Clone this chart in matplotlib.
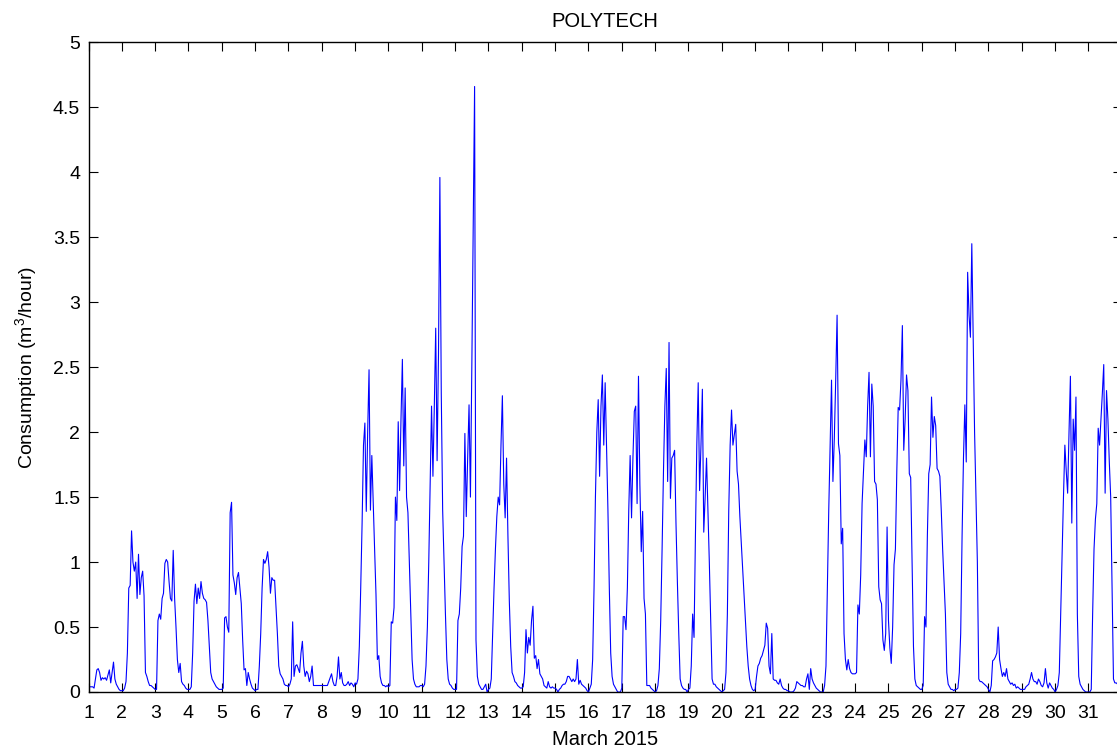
import numpy as np
import matplotlib
matplotlib.use("Agg")
import matplotlib.pyplot as plt

plt.rcParams['font.family'] = ['Liberation Sans', 'DejaVu Sans']
plt.rcParams['mathtext.fontset'] = 'custom'
plt.rcParams['mathtext.rm'] = 'Liberation Sans'
plt.rcParams['mathtext.it'] = 'Liberation Sans'

# Hourly water consumption (m3/hour), one list of 24 readings per day of March 2015
mar01 = [0.04, 0.04, 0.04, 0.04, 0.03, 0.10, 0.17, 0.18, 0.15, 0.09, 0.11, 0.10, 0.11, 0.09, 0.13, 0.17, 0.07, 0.15, 0.23, 0.10, 0.06, 0.04, 0.02, 0.01]
mar02 = [0.01, 0.01, 0.03, 0.08, 0.30, 0.80, 0.82, 1.24, 1.00, 0.93, 1.00, 0.72, 1.06, 0.75, 0.88, 0.93, 0.74, 0.15, 0.12, 0.08, 0.05, 0.05, 0.04, 0.03]
mar03 = [0.02, 0.02, 0.55, 0.60, 0.56, 0.72, 0.76, 0.99, 1.02, 1.00, 0.85, 0.72, 0.70, 1.09, 0.72, 0.50, 0.25, 0.15, 0.22, 0.08, 0.06, 0.05, 0.03, 0.02]
mar04 = [0.02, 0.02, 0.04, 0.30, 0.70, 0.83, 0.68, 0.80, 0.72, 0.85, 0.76, 0.72, 0.71, 0.69, 0.55, 0.35, 0.15, 0.10, 0.08, 0.06, 0.04, 0.03, 0.02, 0.02]
mar05 = [0.02, 0.03, 0.57, 0.58, 0.50, 0.46, 1.38, 1.46, 0.90, 0.84, 0.75, 0.88, 0.92, 0.80, 0.68, 0.40, 0.17, 0.18, 0.05, 0.15, 0.10, 0.06, 0.03, 0.02]
mar06 = [0.01, 0.02, 0.02, 0.20, 0.45, 0.80, 1.02, 0.99, 1.02, 1.08, 0.96, 0.76, 0.88, 0.86, 0.86, 0.65, 0.45, 0.20, 0.14, 0.12, 0.10, 0.06, 0.05, 0.05]
mar07 = [0.04, 0.06, 0.10, 0.54, 0.12, 0.20, 0.21, 0.18, 0.15, 0.30, 0.39, 0.20, 0.12, 0.16, 0.14, 0.08, 0.12, 0.20, 0.05, 0.05, 0.05, 0.05, 0.05, 0.05]
mar08 = [0.05, 0.05, 0.05, 0.05, 0.05, 0.08, 0.11, 0.14, 0.08, 0.05, 0.05, 0.12, 0.27, 0.10, 0.15, 0.07, 0.05, 0.05, 0.06, 0.08, 0.05, 0.07, 0.06, 0.04]
mar09 = [0.07, 0.06, 0.10, 0.35, 0.80, 1.30, 1.90, 2.07, 1.39, 2.00, 2.48, 1.40, 1.82, 1.45, 1.10, 0.75, 0.25, 0.28, 0.12, 0.07, 0.05, 0.05, 0.04, 0.05]
mar10 = [0.04, 0.05, 0.54, 0.53, 0.65, 1.50, 1.32, 2.08, 1.55, 2.10, 2.56, 1.74, 2.34, 1.50, 1.38, 1.00, 0.60, 0.25, 0.10, 0.06, 0.04, 0.04, 0.04, 0.05]
mar11 = [0.05, 0.04, 0.06, 0.20, 0.50, 1.00, 1.60, 2.20, 1.66, 2.20, 2.80, 1.78, 2.60, 3.96, 2.30, 1.40, 1.00, 0.60, 0.25, 0.10, 0.06, 0.05, 0.03, 0.02]
mar12 = [0.02, 0.02, 0.55, 0.60, 0.80, 1.12, 1.20, 1.99, 1.35, 1.80, 2.21, 1.50, 2.50, 3.60, 4.66, 0.40, 0.12, 0.06, 0.04, 0.02, 0.02, 0.04, 0.06, 0.00]
mar13 = [0.02, 0.03, 0.10, 0.45, 0.80, 1.10, 1.35, 1.50, 1.44, 1.90, 2.28, 1.60, 1.34, 1.80, 1.20, 0.70, 0.35, 0.15, 0.12, 0.08, 0.07, 0.05, 0.04, 0.03]
mar14 = [0.03, 0.04, 0.15, 0.48, 0.30, 0.42, 0.36, 0.55, 0.66, 0.26, 0.28, 0.18, 0.25, 0.14, 0.12, 0.10, 0.05, 0.04, 0.03, 0.08, 0.04, 0.03, 0.04, 0.03]
mar15 = [0.03, 0.02, 0.00, 0.02, 0.03, 0.05, 0.06, 0.06, 0.08, 0.12, 0.12, 0.10, 0.08, 0.10, 0.08, 0.10, 0.25, 0.06, 0.09, 0.06, 0.05, 0.04, 0.03, 0.01]
mar16 = [0.00, 0.03, 0.06, 0.25, 0.80, 1.50, 2.00, 2.25, 1.66, 2.20, 2.44, 1.90, 2.38, 1.90, 1.40, 0.80, 0.30, 0.12, 0.06, 0.04, 0.02, 0.00, 0.00, 0.00]
mar17 = [0.03, 0.58, 0.58, 0.48, 0.80, 1.40, 1.82, 1.34, 1.80, 2.16, 2.20, 1.45, 2.43, 1.60, 1.08, 1.39, 0.72, 0.60, 0.05, 0.05, 0.05, 0.03, 0.02, 0.01]
mar18 = [0.00, 0.01, 0.05, 0.18, 0.55, 1.10, 1.70, 2.20, 2.49, 1.62, 2.69, 1.49, 1.80, 1.82, 1.86, 1.30, 0.85, 0.45, 0.10, 0.05, 0.03, 0.02, 0.02, 0.00]
mar19 = [0.02, 0.03, 0.20, 0.60, 0.42, 1.20, 1.90, 2.38, 1.55, 1.90, 2.33, 1.23, 1.50, 1.80, 1.40, 1.00, 0.55, 0.10, 0.06, 0.06, 0.04, 0.03, 0.02, 0.01]
mar20 = [0.00, 0.01, 0.02, 0.15, 0.60, 1.40, 1.90, 2.17, 1.90, 1.98, 2.06, 1.70, 1.60, 1.35, 1.15, 0.95, 0.75, 0.55, 0.35, 0.20, 0.10, 0.05, 0.02, 0.01]
mar21 = [0.02, 0.12, 0.20, 0.22, 0.26, 0.28, 0.32, 0.36, 0.53, 0.49, 0.20, 0.14, 0.45, 0.10, 0.09, 0.09, 0.07, 0.06, 0.10, 0.05, 0.03, 0.02, 0.02, 0.01]
mar22 = [0.01, 0.00, 0.00, 0.00, 0.01, 0.03, 0.08, 0.07, 0.06, 0.05, 0.05, 0.04, 0.04, 0.10, 0.14, 0.02, 0.18, 0.10, 0.07, 0.05, 0.03, 0.02, 0.01, 0.00]
mar23 = [0.00, 0.00, 0.05, 0.20, 0.80, 1.40, 1.90, 2.40, 1.62, 1.95, 2.40, 2.90, 1.91, 1.82, 1.14, 1.26, 0.45, 0.25, 0.17, 0.25, 0.18, 0.15, 0.14, 0.14]
mar24 = [0.14, 0.15, 0.67, 0.60, 0.90, 1.45, 1.70, 1.94, 1.81, 2.20, 2.46, 1.81, 2.37, 2.20, 1.62, 1.60, 1.48, 0.81, 0.71, 0.68, 0.40, 0.32, 0.45, 1.27]
mar25 = [0.55, 0.34, 0.22, 0.50, 0.98, 1.10, 1.70, 2.19, 2.17, 2.40, 2.82, 1.86, 2.10, 2.44, 2.32, 1.68, 1.65, 1.00, 0.35, 0.10, 0.05, 0.04, 0.03, 0.02]
mar26 = [0.02, 0.05, 0.58, 0.50, 1.20, 1.68, 1.75, 2.27, 1.96, 2.12, 2.05, 1.72, 1.70, 1.66, 1.40, 1.10, 0.85, 0.60, 0.15, 0.06, 0.04, 0.02, 0.02, 0.01]
mar27 = [0.02, 0.02, 0.03, 0.15, 0.45, 1.20, 1.80, 2.21, 1.77, 3.23, 2.90, 2.73, 3.45, 2.73, 2.00, 1.50, 1.00, 0.10, 0.08, 0.08, 0.07, 0.06, 0.05, 0.04]
mar28 = [0.02, 0.00, 0.05, 0.24, 0.25, 0.27, 0.30, 0.50, 0.25, 0.18, 0.12, 0.15, 0.12, 0.18, 0.10, 0.08, 0.06, 0.07, 0.05, 0.06, 0.03, 0.04, 0.03, 0.02]
mar29 = [0.02, 0.02, 0.02, 0.04, 0.05, 0.06, 0.10, 0.15, 0.10, 0.08, 0.08, 0.06, 0.10, 0.08, 0.05, 0.04, 0.07, 0.18, 0.07, 0.03, 0.07, 0.05, 0.03, 0.02]
mar30 = [0.00, 0.02, 0.05, 0.15, 0.60, 1.05, 1.50, 1.90, 1.70, 1.53, 2.00, 2.43, 1.30, 2.10, 1.86, 2.27, 0.60, 0.12, 0.06, 0.04, 0.02, 0.01, 0.00, 0.00]
mar31 = [0.00, 0.00, 0.02, 0.60, 1.10, 1.33, 1.45, 2.03, 1.90, 2.10, 2.30, 2.52, 1.53, 2.32, 2.10, 1.77, 1.50, 0.80, 0.10, 0.07, 0.07, 0.06, 0.05, 0.05]

days = [mar01, mar02, mar03, mar04, mar05, mar06, mar07, mar08, mar09, mar10,
        mar11, mar12, mar13, mar14, mar15, mar16, mar17, mar18, mar19, mar20,
        mar21, mar22, mar23, mar24, mar25, mar26, mar27, mar28, mar29, mar30, mar31]
day_ticks = list(range(1, 32))

consumption = np.concatenate([np.asarray(d, dtype=float) for d in days])
hours = np.arange(consumption.size)
t = 1 + hours / 24.0  # day-of-month as a continuous axis

W, H = 1117, 755
fig = plt.figure(figsize=(W / 100, H / 100), dpi=100)
left, right, top, bottom = 88.5, 1121.8, 42.3, 692.0
ax = fig.add_axes([left / W, (H - bottom) / H, (right - left) / W, (bottom - top) / H])

ax.plot(t, consumption, color=(0, 0, 1), linewidth=0.8)

ax.set_xlim(1, 32)
ax.set_ylim(0, 5)
ax.set_xticks(day_ticks)
ax.set_yticks(np.arange(0, 5.01, 0.5))
ax.set_yticklabels(['0', '0.5', '1', '1.5', '2', '2.5', '3', '3.5', '4', '4.5', '5'])

ax.tick_params(axis='both', direction='in', length=6.5, width=0.8, labelsize=14,
               top=True, right=True, colors='black')
ax.tick_params(axis='x', pad=9)
ax.tick_params(axis='y', pad=6)
for s in ax.spines.values():
    s.set_linewidth(1.0)
    s.set_color('black')

ax.set_title('POLYTECH', fontsize=14.5, pad=11)
ax.set_xlabel('March 2015', fontsize=14.5, labelpad=6)
ax.set_ylabel('Consumption (m$^3$/hour)', fontsize=14, labelpad=10)

fig.savefig('out.png', dpi=100)
